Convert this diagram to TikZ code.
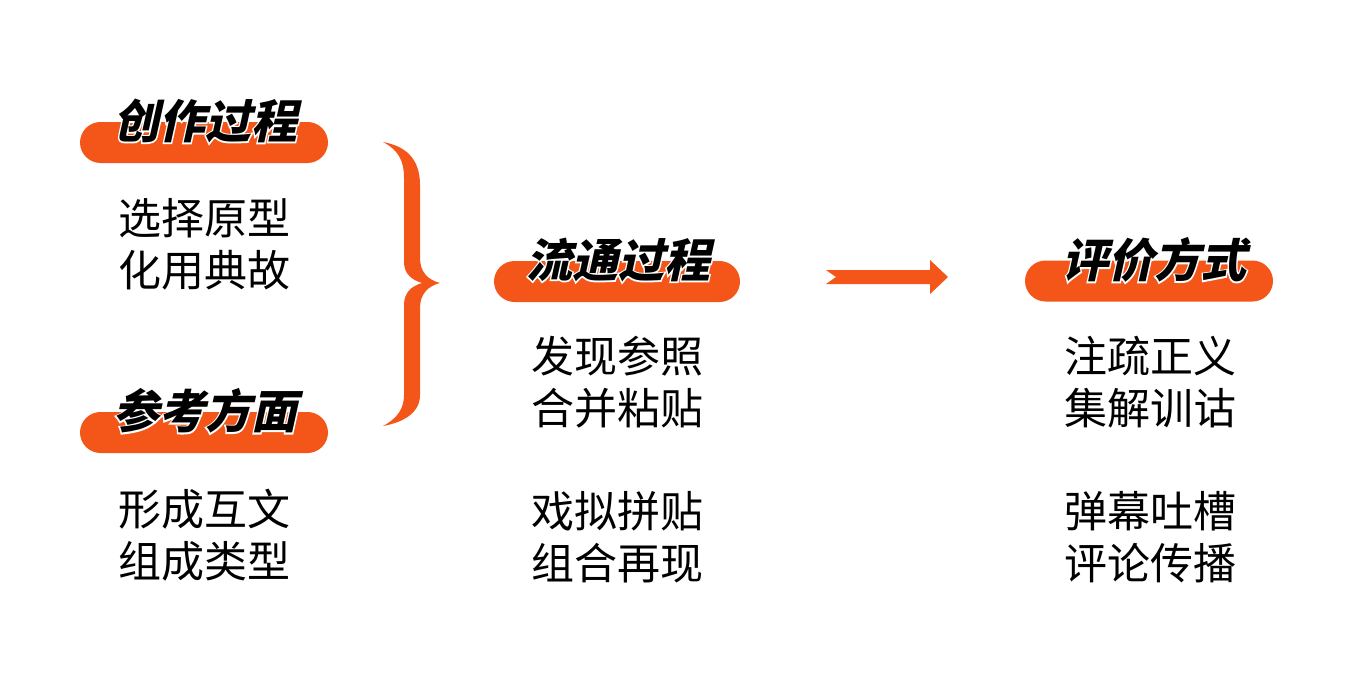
\documentclass[tikz,border=0pt]{standalone}
\usepackage{fontspec}
\newfontfamily\cjkbody{Noto Sans CJK SC}
\newfontfamily\cjktitle{Noto Sans CJK SC}[FakeSlant=0.22]
\newfontfamily\cjkhalo{Noto Sans CJK SC}[FakeSlant=0.22,FakeBold=6]
\definecolor{barorange}{RGB}{244,86,26}

% white halo behind a title
\newcommand{\halotext}[1]{\rlap{\cjkhalo\bfseries\color{white}#1}#1}

\tikzset{
  titlebar/.style={fill=barorange, rounded corners=15.4pt, minimum width=186pt, minimum height=30.75pt, inner sep=0pt},
  titletext/.style={inner sep=0pt, font=\cjktitle\bfseries\fontsize{34.5}{34.5}\selectfont},
  bodytext/.style={inner sep=0pt, align=center, font=\cjkbody\fontsize{32.25}{39}\selectfont}
}

\begin{document}
\begin{tikzpicture}[x=0.75pt,y=0.75pt,yscale=-1,xscale=1]
\useasboundingbox (0,0) rectangle (1362,682);

%Title Bars
\node [titlebar] (bar1) at (204,142.5) {};
\node [titlebar] (bar2) at (204,432.5) {};
\node [titlebar, minimum width=184.5pt] (bar3) at (617,281.5) {};
\node [titlebar] (bar4) at (1149,281) {};

% Title Text
\node [titletext] (head1) at (205,121) {\halotext{创作过程}};
\node [titletext] (head2) at (205,411) {\halotext{参考方面}};
\node [titletext] (head3) at (618,260) {\halotext{流通过程}};
\node [titletext] (head4) at (1154,260) {\halotext{评价方式}};

% Text Node
\node [bodytext] (create) at (204,244.5) {选择原型\\化用典故};
\node [bodytext] (refer) at (204,535) {形成互文\\组成类型};
\node [bodytext] (spreadA) at (617,382) {发现参照\\合并粘贴};
\node [bodytext] (spreadB) at (617,537) {戏拟拼贴\\组合再现};
\node [bodytext] (judgeA) at (1150,382) {注疏正义\\集解训诂};
\node [bodytext] (judgeB) at (1150,537) {弹幕吐槽\\评论传播};

%Brace
\fill [barorange] (383,142) .. controls (405,146) and (420,158) .. (420,185) -- (420,258) .. controls (420,272) and (428,280) .. (440,283) .. controls (428,286) and (420,294) .. (420,308) -- (420,395) .. controls (420,412) and (405,422) .. (383,426) .. controls (398,418) and (404,408) .. (404,395) -- (404,305) .. controls (404,292) and (412,286) .. (422,283) .. controls (412,280) and (404,274) .. (404,262) -- (404,178) .. controls (404,160) and (398,150) .. (383,142) -- cycle ;

%Arrow
\coordinate (arrowtail) at (826,277);
\coordinate (arrowtip) at (948,277);
\fill [barorange] (arrowtail) ++(0,-7) -- (930,270) -- (930,260) -- (arrowtip) -- (930,294) -- (930,284) -- (826,284) -- (836,277) -- cycle ;

\end{tikzpicture}
\end{document}
